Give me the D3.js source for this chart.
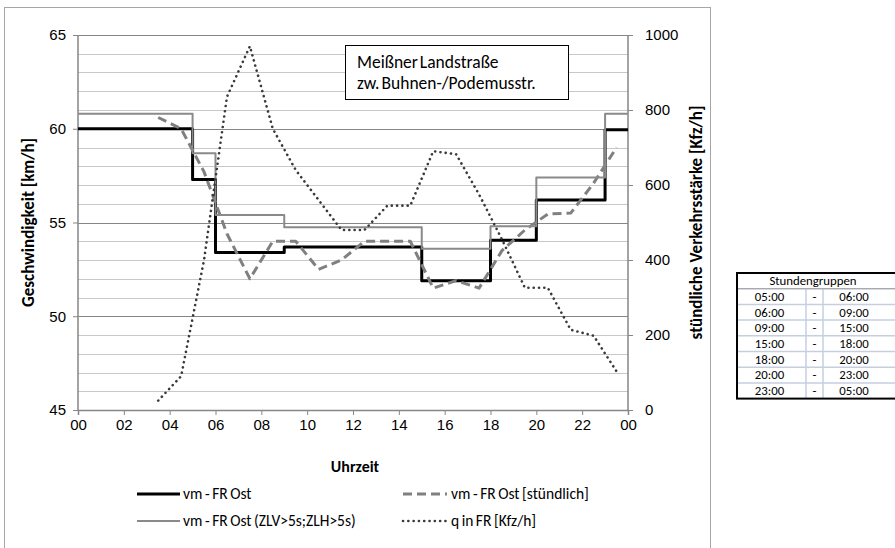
<!DOCTYPE html>
<html>
<head>
<meta charset="utf-8">
<script src="https://cdn.jsdelivr.net/npm/d3@7"></script>
<style>
  body { margin: 0; background: #fff; }
  svg { font-family: Carlito, Calibri, Lato, sans-serif; }
  .tick text { fill: #000; }
</style>
</head>
<body>
<script>
var margin = {top: 35, right: 267, bottom: 138, left: 78},
    width = 895 - margin.left - margin.right,
    height = 548 - margin.top - margin.bottom;

// Stundengruppen (start hours), last entry closes the day
var groupStarts = [0, 5, 6, 9, 15, 18, 20, 23, 24];
var vmOst   = [60.0, 57.3, 53.4, 53.7, 51.9, 54.05, 56.2, 59.95];
var vmOstZl = [60.8, 58.7, 55.4, 54.75, 53.6, 54.8, 57.4, 60.8];

// hourly values, plotted in the middle of each hour
var hours = [3, 4, 5, 6, 7, 8, 9, 10, 11, 12, 13, 14, 15, 16, 17, 18, 19, 20, 21, 22, 23];
var vmStuendlich = [60.6, 60.0, 57.7, 54.4, 52.0, 54.0, 54.0, 52.5, 53.0, 54.0, 54.0,
                    54.0, 51.5, 51.9, 51.5, 53.5, 54.6, 55.45, 55.5, 57.1, 59.0];
var qFR = [25, 90, 400, 835, 970, 750, 640, 560, 480, 480, 545,
           545, 690, 682, 575, 455, 326, 326, 214, 198, 103];

var xTickValues = [0, 2, 4, 6, 8, 10, 12, 14, 16, 18, 20, 22, 24];
var xTickLabels = ["00", "02", "04", "06", "08", "10", "12", "14", "16", "18", "20", "22", "00"];
var yLeftTicks = [45, 50, 55, 60, 65];
var yMinorTicks = [46, 47, 48, 49, 51, 52, 53, 54, 56, 57, 58, 59, 61, 62, 63, 64];
var yRightTicks = [0, 200, 400, 600, 800, 1000];

var tableHeader = "Stundengruppen";
var tableFrom = ["05:00", "06:00", "09:00", "15:00", "18:00", "20:00", "23:00"];
var tableTo   = ["06:00", "09:00", "15:00", "18:00", "20:00", "23:00", "05:00"];

var legendItems = [
  {name: "vm - FR Ost", key: "black"},
  {name: "vm - FR Ost [stündlich]", key: "dash"},
  {name: "vm - FR Ost (ZLV>5s;ZLH>5s)", key: "gray"},
  {name: "q in FR [Kfz/h]", key: "dot"}
];

var styles = {
  black: {stroke: "#000000", width: 3, dash: null, cap: "butt"},
  dash:  {stroke: "#808080", width: 3, dash: "9,5", cap: "butt"},
  gray:  {stroke: "#8a8a8a", width: 2, dash: null, cap: "butt"},
  dot:   {stroke: "#3a3a3a", width: 2.6, dash: "0.1,5.2", cap: "round"}
};

var x = d3.scaleLinear().domain([0, 24]).range([0, width]);
var y = d3.scaleLinear().domain([45, 65]).range([height, 0]);
var y2 = d3.scaleLinear().domain([0, 1000]).range([height, 0]);

var svg = d3.select("body").append("svg")
    .attr("width", 895)
    .attr("height", 548);

// outer chart border
svg.append("rect")
    .attr("x", 4.5).attr("y", 7.5)
    .attr("width", 706).attr("height", 560)
    .style("fill", "none")
    .style("stroke", "#a6a6a6");

var g = svg.append("g")
    .attr("transform", "translate(" + margin.left + "," + margin.top + ")");

// minor grid every 1 km/h
g.append("g").attr("class", "minor-grid").selectAll("line")
    .data(yMinorTicks)
  .enter().append("line")
    .attr("x1", 0).attr("x2", width)
    .attr("y1", function(d) { return Math.round(y(d)) + 0.5; })
    .attr("y2", function(d) { return Math.round(y(d)) + 0.5; })
    .style("stroke", "#c8c8c8")
    .style("stroke-width", 1);

// major grid
g.append("g").selectAll("line")
    .data(yLeftTicks)
  .enter().append("line")
    .attr("x1", 0).attr("x2", width)
    .attr("y1", function(d) { return Math.round(y(d)) + 0.5; })
    .attr("y2", function(d) { return Math.round(y(d)) + 0.5; })
    .style("stroke", "#868686");

// axes
var xAxis = g.append("g")
    .attr("transform", "translate(0," + height + ")")
    .call(d3.axisBottom(x).tickValues(xTickValues).tickSize(5).tickPadding(4)
      .tickFormat(function(d, i) { return xTickLabels[i]; }));

var yAxis = g.append("g")
    .call(d3.axisLeft(y).tickValues(yLeftTicks).tickSize(5).tickPadding(7));

var y2Axis = g.append("g")
    .attr("transform", "translate(" + width + ",0)")
    .call(d3.axisRight(y2).tickValues(yRightTicks).tickSize(5).tickPadding(12)
      .tickFormat(d3.format("d")));

[xAxis, yAxis, y2Axis].forEach(function(a) {
  a.select(".domain").style("stroke", "#868686").style("stroke-width", 1.5);
  a.selectAll(".tick line").style("stroke", "#868686");
  a.selectAll(".tick text").style("font-size", "15px");
});
yAxis.select(".domain").attr("d", "M0," + height + "V0");
y2Axis.select(".domain").attr("d", "M0," + height + "V0");

// series
function stepData(vals) {
  var pts = [];
  for (var i = 0; i < vals.length; i++) {
    pts.push({h: groupStarts[i], v: vals[i]});
  }
  pts.push({h: groupStarts[vals.length], v: vals[vals.length - 1]});
  return pts;
}

function hourData(vals) {
  return hours.map(function(h, i) { return {h: h + 0.5, v: vals[i]}; });
}

function drawLine(data, yScale, curve, st) {
  var line = d3.line()
      .x(function(d) { return x(d.h); })
      .y(function(d) { return yScale(d.v); })
      .curve(curve);
  var p = g.append("path")
      .datum(data)
      .attr("d", line)
      .style("fill", "none")
      .style("stroke", st.stroke)
      .style("stroke-width", st.width)
      .style("stroke-linecap", st.cap)
      .style("stroke-linejoin", "round");
  if (st.dash) p.style("stroke-dasharray", st.dash);
}

drawLine(stepData(vmOst), y, d3.curveStepAfter, styles.black);
drawLine(hourData(vmStuendlich), y, d3.curveLinear, styles.dash);
drawLine(stepData(vmOstZl), y, d3.curveStepAfter, styles.gray);
drawLine(hourData(qFR), y2, d3.curveLinear, styles.dot);

// axis titles
svg.append("text")
    .attr("transform", "translate(34," + (margin.top + height / 2) + ") rotate(-90)")
    .attr("text-anchor", "middle")
    .style("font-size", "17px").style("font-weight", "bold")
    .text("Geschwindigkeit [km/h]");

svg.append("text")
    .attr("transform", "translate(702," + (margin.top + height / 2) + ") rotate(-90)")
    .attr("text-anchor", "middle")
    .style("font-size", "17px").style("font-weight", "bold")
    .text("stündliche Verkehrsstärke [Kfz/h]");

svg.append("text")
    .attr("x", margin.left + width / 2 + 2).attr("y", 472)
    .attr("text-anchor", "middle")
    .style("font-size", "16px").style("font-weight", "bold")
    .text("Uhrzeit");

// annotation box
svg.append("rect")
    .attr("x", 345.5).attr("y", 45.5)
    .attr("width", 223).attr("height", 54)
    .style("fill", "#fff").style("stroke", "#000");
svg.append("text").attr("x", 357).attr("y", 68)
    .style("font-size", "17.5px").style("word-spacing", "-2px").text("Meißner Landstraße");
svg.append("text").attr("x", 357).attr("y", 89)
    .style("font-size", "17.5px").style("word-spacing", "-2px").text("zw. Buhnen-/Podemusstr.");

// legend
var legend = svg.append("g").selectAll("g")
    .data(legendItems)
  .enter().append("g")
    .attr("transform", function(d, i) {
      return "translate(" + (i % 2 == 0 ? 137 : 403) + "," + (i < 2 ? 494 : 521) + ")";
    });
legend.append("line")
    .attr("x1", 0).attr("x2", function(d, i) { return i % 2 == 0 ? 43 : 44; })
    .attr("y1", 0).attr("y2", 0)
    .style("stroke", function(d) { return styles[d.key].stroke; })
    .style("stroke-width", function(d) { return styles[d.key].width; })
    .style("stroke-dasharray", function(d) { return styles[d.key].dash; })
    .style("stroke-linecap", function(d) { return styles[d.key].cap; });
legend.append("text")
    .attr("x", function(d, i) { return i % 2 == 0 ? 46 : 48; })
    .attr("y", 5)
    .style("font-size", "15.5px")
    .style("word-spacing", "-1px")
    .text(function(d) { return d.name; });

// Stundengruppen table
var tx = 737, ty = 273, rowH = 15.7, tw = 160;
var colX = [tx, tx + 69, tx + 86, tx + tw];
var table = svg.append("g");
var nRows = tableFrom.length + 1;
var tFont = "12.8px";

// inner grid
for (var r = 1; r < nRows; r++) {
  table.append("line")
      .attr("x1", tx).attr("x2", tx + tw)
      .attr("y1", ty + r * rowH).attr("y2", ty + r * rowH)
      .style("stroke", "#c6cfe0").style("stroke-width", 1.5);
}
[colX[1], colX[2]].forEach(function(cx) {
  table.append("line")
      .attr("x1", cx).attr("x2", cx)
      .attr("y1", ty + rowH).attr("y2", ty + nRows * rowH)
      .style("stroke", "#c6cfe0").style("stroke-width", 1.5);
});
table.append("line")
    .attr("x1", tx).attr("x2", tx + tw)
    .attr("y1", ty + rowH).attr("y2", ty + rowH)
    .style("stroke", "#a0a0a0");
table.append("rect")
    .attr("x", tx).attr("y", ty)
    .attr("width", tw).attr("height", nRows * rowH)
    .style("fill", "none").style("stroke", "#000").style("stroke-width", 2);

table.append("text")
    .attr("x", tx + 76).attr("y", ty + rowH - 3.5)
    .attr("text-anchor", "middle")
    .style("font-size", tFont)
    .text(tableHeader);

tableFrom.forEach(function(t, i) {
  var yy = ty + (i + 2) * rowH - 3.5;
  table.append("text").attr("x", (colX[0] + colX[1]) / 2 - 2).attr("y", yy)
      .attr("text-anchor", "middle").style("font-size", tFont).text(t);
  table.append("text").attr("x", (colX[1] + colX[2]) / 2).attr("y", yy)
      .attr("text-anchor", "middle").style("font-size", tFont).text("-");
  table.append("text").attr("x", (colX[2] + colX[3]) / 2 - 6).attr("y", yy)
      .attr("text-anchor", "middle").style("font-size", tFont).text(tableTo[i]);
});
</script>
</body>
</html>
